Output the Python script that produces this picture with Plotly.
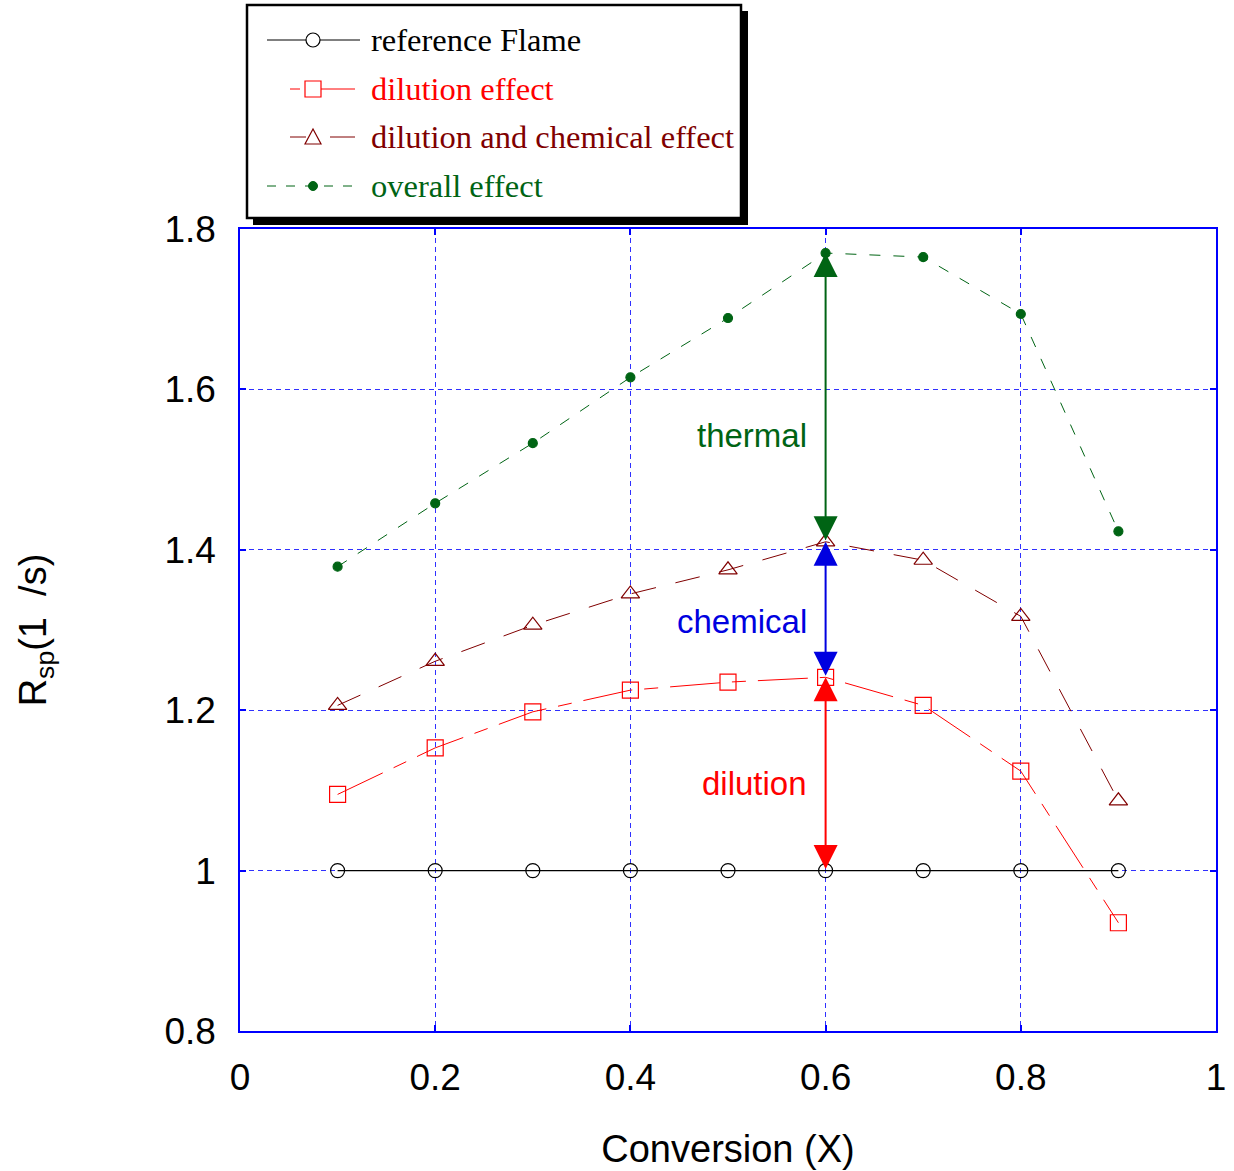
import plotly.graph_objects as go

# Conversion values (X) and specific reaction rate R_sp (1/s)
conversion = [0.1, 0.2, 0.3, 0.4, 0.5, 0.6, 0.7, 0.8, 0.9]
reference_flame = [1.0, 1.0, 1.0, 1.0, 1.0, 1.0, 1.0, 1.0, 1.0]
dilution_effect = [1.095, 1.153, 1.198, 1.225, 1.235, 1.241, 1.206, 1.124, 0.935]
dilution_chemical = [1.206, 1.261, 1.306, 1.345, 1.375, 1.410, 1.387, 1.317, 1.087]
overall_effect = [1.379, 1.458, 1.533, 1.615, 1.689, 1.770, 1.765, 1.694, 1.423]

x_ticks = [0, 0.2, 0.4, 0.6, 0.8, 1]
x_tick_text = ["0", "0.2", "0.4", "0.6", "0.8", "1"]
y_ticks = [0.8, 1.0, 1.2, 1.4, 1.6, 1.8]
y_tick_text = ["0.8", "1", "1.2", "1.4", "1.6", "1.8"]

# effect breakdown shown at X = 0.6
x_split = 0.6
idx = conversion.index(x_split)

C_BLACK = "#000000"
C_RED = "#ff0000"
C_DRED = "#800000"
C_GREEN = "#006414"
C_BLUE = "#0000e0"

W, H = 1234, 1171
L, R, T, B = 240, 18, 229, 140
PW, PH = W - L - R, H - T - B


def px(xp):
    return (xp - L) / PW


def py(yp):
    return (H - B - yp) / PH


series = [
    ("reference Flame", reference_flame, C_BLACK, "solid", "circle-open", 14, 1.3),
    ("dilution effect", dilution_effect, C_RED, "50px,12px,14px,12px", "square-open", 16, 1),
    ("dilution and chemical effect", dilution_chemical, C_DRED, "25px,20px", "triangle-up-open", 16, 1),
    ("overall effect", overall_effect, C_GREEN, "11px,13px", "circle", 9, 1),
]

fig = go.Figure()
for name, vals, col, dash, sym, size, lw in series:
    fig.add_trace(go.Scatter(
        x=conversion, y=vals, mode="lines+markers", name=name,
        line=dict(color=col, width=lw, dash=dash),
        marker=dict(symbol=sym, size=size, color=col, line=dict(color=col, width=1.2)),
        showlegend=False,
    ))

shapes = []
annotations = []

# legend frame with drop shadow
shapes.append(dict(type="rect", xref="paper", yref="paper",
                   x0=px(253), x1=px(748), y0=py(225), y1=py(11),
                   fillcolor="black", line=dict(width=0), layer="above"))
shapes.append(dict(type="rect", xref="paper", yref="paper",
                   x0=px(247), x1=px(741), y0=py(218), y1=py(5),
                   fillcolor="white", line=dict(color="black", width=2.5), layer="above"))

legend_rows = [40, 89, 137, 186]
legend_dash = {
    "reference Flame": [(267, 360, "solid")],
    "dilution effect": [(290, 300, "solid"), (321, 355, "solid")],
    "dilution and chemical effect": [(290, 306, "solid"), (330, 355, "solid")],
    "overall effect": [(267, 360, "9px,10px")],
}
for (name, vals, col, dash, sym, size, lw), yrow in zip(series, legend_rows):
    for xa, xb, d in legend_dash[name]:
        shapes.append(dict(type="line", xref="paper", yref="paper",
                           x0=px(xa), x1=px(xb), y0=py(yrow), y1=py(yrow),
                           line=dict(color=col, width=1, dash=d), layer="above"))
    if sym == "circle-open":
        shapes.append(dict(type="circle", xref="paper", yref="paper",
                           x0=px(306), x1=px(320), y0=py(yrow + 7), y1=py(yrow - 7),
                           fillcolor="white", line=dict(color=col, width=1.2), layer="above"))
    elif sym == "square-open":
        shapes.append(dict(type="rect", xref="paper", yref="paper",
                           x0=px(305), x1=px(321), y0=py(yrow + 8), y1=py(yrow - 8),
                           line=dict(color=col, width=1.2), layer="above"))
    elif sym == "triangle-up-open":
        path = "M {} {} L {} {} L {} {} Z".format(px(305), py(yrow + 7), px(321), py(yrow + 7),
                                                 px(313), py(yrow - 8))
        shapes.append(dict(type="path", xref="paper", yref="paper", path=path,
                           fillcolor="white", line=dict(color=col, width=1.2), layer="above"))
    else:
        shapes.append(dict(type="circle", xref="paper", yref="paper",
                           x0=px(308.5), x1=px(317.5), y0=py(yrow + 4.5), y1=py(yrow - 4.5),
                           fillcolor=col, line=dict(color=col, width=1), layer="above"))
    annotations.append(dict(xref="paper", yref="paper", x=px(369), y=py(yrow),
                            xanchor="left", yanchor="middle", showarrow=False, text=name,
                            font=dict(family="Liberation Serif", size=32.5, color=col)))

# double-headed arrows splitting the overall effect at X = 0.6
arrow_spans = [
    (overall_effect[idx], dilution_chemical[idx], C_GREEN, "thermal", 1.542),
    (dilution_chemical[idx], dilution_effect[idx], C_BLUE, "chemical", 1.311),
    (dilution_effect[idx], reference_flame[idx], C_RED, "dilution", 1.108),
]
for top, bottom, col, label, ylab in arrow_spans:
    annotations.append(dict(x=x_split, y=top, ax=x_split, ay=bottom,
                            xref="x", yref="y", axref="x", ayref="y",
                            text="", showarrow=True, arrowside="end+start",
                            arrowhead=2, startarrowhead=2, arrowsize=2.4, startarrowsize=2.4,
                            arrowwidth=2, arrowcolor=col, standoff=0, startstandoff=0))
    annotations.append(dict(x=x_split, y=ylab, xref="x", yref="y", xshift=-17,
                            xanchor="right", yanchor="middle", showarrow=False, text=label,
                            font=dict(family="Liberation Sans", size=33, color=col)))

axis_common = dict(
    showline=True, linecolor="#0000ff", linewidth=1.5, mirror="ticks",
    ticks="inside", ticklen=6, tickcolor="#0000ff", tickwidth=1.5,
    showgrid=True, gridcolor="#3030ff", gridwidth=1, griddash="5px,4px",
    zeroline=False, automargin=False,
    tickfont=dict(family="Liberation Sans", size=37, color="black"),
)

fig.update_layout(
    width=W, height=H,
    margin=dict(l=L, r=R, t=T, b=B),
    paper_bgcolor="white", plot_bgcolor="white",
    xaxis=dict(range=[0, 1], tickvals=x_ticks, ticktext=x_tick_text, ticklabelstandoff=13,
               title=dict(text="Conversion (X)", standoff=38,
                          font=dict(family="Liberation Sans", size=38, color="black")),
               **axis_common),
    yaxis=dict(range=[0.8, 1.8], tickvals=y_ticks, ticktext=y_tick_text, ticklabelstandoff=15,
               title=dict(text="R<sub>sp</sub>(1&nbsp;&nbsp;/s)", standoff=106,
                          font=dict(family="Liberation Sans", size=38, color="black")),
               **axis_common),
    shapes=shapes,
    annotations=annotations,
    showlegend=False,
)

fig.write_html("out.html")
